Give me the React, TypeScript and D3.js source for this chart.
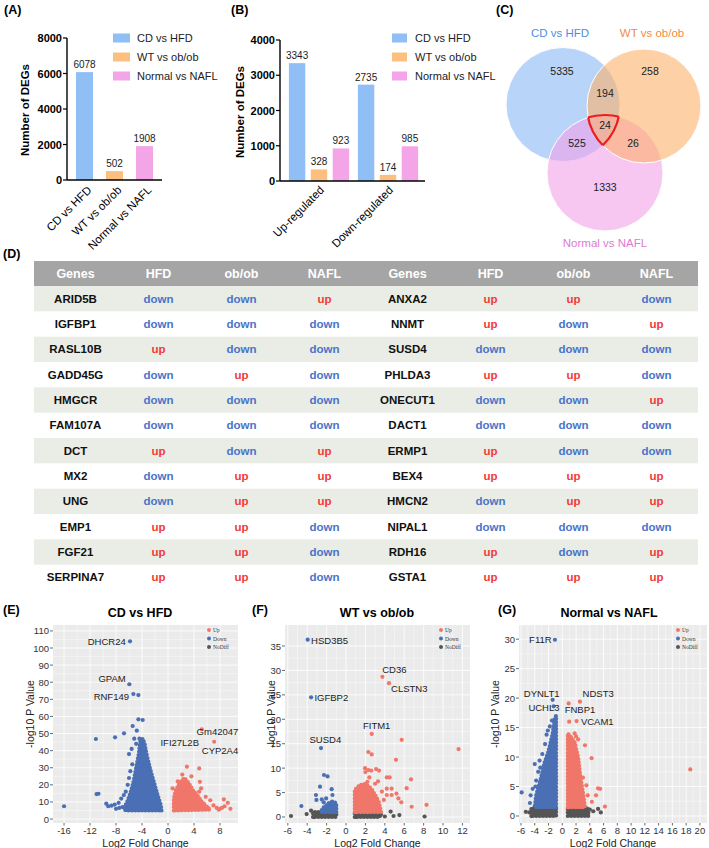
import React from "react";
import * as d3 from "d3";

const FONT = "'Liberation Sans', Arial, sans-serif";

// (A) / (B) bar charts
const seriesNames = ["CD vs HFD", "WT vs ob/ob", "Normal vs NAFL"];
const seriesColors = ["#90bff6", "#fdbf80", "#f3a5e7"];
const degTotals = [6078, 502, 1908];
const degTotalTicks = [0, 2000, 4000, 6000, 8000];
const regGroups = ["Up-regulated", "Down-regulated"];
const upCounts = [3343, 328, 923];
const downCounts = [2735, 174, 985];
const regTicks = [0, 1000, 2000, 3000, 4000];

// (C) venn
const vennNames = ["CD vs HFD", "WT vs ob/ob", "Normal vs NAFL"];
const vennColors = ["#8ab8f5", "#fbb06a", "#f2a0e8"];
const vennTextColors = ["#4f8fdc", "#f08c46", "#e07ad2"];
const vennRegionNames = ["CD", "WT", "NAFL", "CD&WT", "CD&NAFL", "WT&NAFL", "all"];
const vennRegionCounts = [5335, 258, 1333, 194, 525, 26, 24];

// (D) table
const tableHeader = ["Genes", "HFD", "ob/ob", "NAFL", "Genes", "HFD", "ob/ob", "NAFL"];
const leftGenes = ["ARID5B", "IGFBP1", "RASL10B", "GADD45G", "HMGCR", "FAM107A", "DCT", "MX2", "UNG", "EMP1", "FGF21", "SERPINA7"];
const leftHFD = ["down", "down", "up", "down", "down", "down", "up", "down", "down", "up", "up", "up"];
const leftOb = ["down", "down", "down", "up", "down", "down", "down", "up", "up", "up", "up", "up"];
const leftNAFL = ["up", "down", "down", "down", "down", "down", "up", "up", "up", "down", "down", "down"];
const rightGenes = ["ANXA2", "NNMT", "SUSD4", "PHLDA3", "ONECUT1", "DACT1", "ERMP1", "BEX4", "HMCN2", "NIPAL1", "RDH16", "GSTA1"];
const rightHFD = ["up", "up", "down", "up", "down", "down", "up", "up", "down", "down", "up", "up"];
const rightOb = ["up", "down", "down", "up", "down", "down", "down", "up", "up", "down", "down", "up"];
const rightNAFL = ["down", "up", "down", "down", "up", "down", "down", "up", "up", "down", "up", "up"];

// (E) CD vs HFD volcano
type Pt = [number, number];
const eDownArea: Pt[] = [[-1.0, 5], [-1.1, 8], [-1.6, 14], [-2.2, 22], [-2.8, 30], [-3.3, 38], [-3.6, 44], [-3.9, 47], [-4.3, 45], [-4.5, 38], [-4.9, 30], [-5.3, 22], [-5.8, 15], [-6.3, 10], [-6.8, 6], [-6.5, 5]];
const eUpArea: Pt[] = [[0.9, 5], [0.9, 12], [1.2, 17], [1.8, 21], [2.5, 24], [3.2, 21], [3.8, 17], [4.5, 14], [5.2, 10], [6, 7], [6.5, 5.5]];
const eDown: Pt[] = [[-5.85, 103.9], [-5.95, 78.8], [-5.33, 73.1], [-4.56, 72.5], [-11.1, 46.8], [-8.15, 47.8], [-6.77, 50.1], [-5.44, 54.4], [-3.9, 57.9], [-4.56, 58.3], [-4.8, 51.7], [-5.2, 47], [-4.4, 47], [-4.9, 44], [-5.6, 41], [-6.0, 38], [-4.2, 42], [-11.0, 14.6], [-10.7, 14.8], [-16, 7.5], [-8.7, 7.8], [-8.2, 8.5], [-7.6, 9.5], [-7.2, 12], [-6.8, 14], [-6.5, 16], [-6.2, 20], [-6.0, 24], [-5.8, 28], [-5.5, 32], [-7.5, 6.5], [-8.0, 6], [-9.2, 7.5], [-6.3, 8], [-7, 7], [-9.5, 9]];
const eUp: Pt[] = [[5.2, 52.5], [7.1, 45.2], [2.9, 30.6], [4.8, 29.6], [4.9, 21.8], [5.1, 18], [4.8, 16], [5.8, 13], [6.5, 11], [7.0, 8], [7.5, 6.5], [8.0, 6], [8.3, 6.5], [8.7, 7.5], [9.2, 9.5], [9.6, 6], [8.6, 11.5], [6.2, 6], [5.5, 9], [3.6, 25], [2.2, 26], [1.5, 22], [0.7, 18], [6.0, 7], [7.8, 5.5]];
const eLabels = [
  { name: "DHCR24", x: -6.5, y: 103.9, anchor: "end" },
  { name: "GPAM", x: -6.5, y: 81.9, anchor: "end" },
  { name: "RNF149", x: -6.0, y: 71.9, anchor: "end" },
  { name: "Gm42047", x: 4.4, y: 51, anchor: "start" },
  { name: "IFI27L2B", x: 4.77, y: 44.6, anchor: "end" },
  { name: "CYP2A4", x: 5.2, y: 39.8, anchor: "start" },
];

// (F) WT vs ob/ob volcano
const fDownArea: Pt[] = [[-1.0, 1], [-1.0, 2.8], [-1.4, 3.2], [-1.9, 2.6], [-2.4, 1.8], [-2.6, 1.0]];
const fUpArea: Pt[] = [[0.9, 1], [0.9, 5.5], [1.4, 6.5], [2.0, 6.8], [2.6, 5.8], [3.0, 4.5], [3.4, 3], [3.6, 1]];
const fGrayAreas: Pt[][] = [
  [[-3.4, 0], [-3.4, 1], [-1, 1], [-1, 0]],
  [[0.9, 0], [0.9, 1], [3.5, 1], [3.5, 0]],
];
const fDown: Pt[] = [[-3.95, 36.3], [-3.6, 24.5], [-2.58, 14.1], [-2.27, 8.6], [-1.9, 8.3], [-2.68, 6.2], [-1.48, 5.7], [-1.4, 4.5], [-3.1, 4.5], [-3.05, 3.5], [-4.6, 2.25], [-2.05, 3.8], [-2.5, 3.6], [-1.8, 2.8], [-2.3, 3]];
const fUp: Pt[] = [[3.75, 28.7], [4.43, 27.4], [2.65, 17], [5.74, 15.8], [11.6, 13.9], [2.3, 13.3], [2.65, 12.8], [5.15, 11.7], [1.96, 10.0], [2.0, 9.2], [2.3, 9.6], [2.6, 9.5], [3.1, 9.8], [3.4, 9.5], [4.2, 8.1], [4.5, 8.1], [2.4, 8.1], [2.2, 7.2], [1.8, 6.5], [6.7, 7.7], [6.25, 5.9], [4.2, 5.8], [4.7, 5.8], [3.7, 5.2], [4.2, 4.5], [4.7, 4.5], [5.2, 4.8], [5.4, 3.8], [5.7, 3.0], [6.77, 2.1], [8.3, 2.5], [3.9, 3.5], [3.0, 6.8], [1.5, 6.0], [3.3, 7.3]];
const fGray: Pt[] = [[-5.67, 0.2], [-4.06, 0.6], [-3.6, 1.3], [-3.3, 0.1], [4.0, 0.1], [4.6, 1.1], [4.9, 0.2], [5.5, 0.4], [8.1, 0.1], [-2.8, 0.2], [3.6, 0.5]];
const fLabels = [
  { name: "HSD3B5", x: -3.6, y: 36.1, anchor: "start" },
  { name: "IGFBP2", x: -3.26, y: 24.5, anchor: "start" },
  { name: "SUSD4", x: -2.13, y: 15.8, anchor: "middle" },
  { name: "CD36", x: 4.98, y: 30.1, anchor: "middle" },
  { name: "CLSTN3", x: 4.64, y: 26.4, anchor: "start" },
  { name: "FITM1", x: 3.16, y: 18.7, anchor: "middle" },
];

// (G) Normal vs NAFL volcano
const gDownArea: Pt[] = [[-0.9, 1.5], [-0.9, 17], [-1.1, 16.5], [-1.4, 14], [-2.0, 11], [-2.6, 9], [-3.2, 6], [-3.8, 3.5], [-4.0, 1.5]];
const gUpArea: Pt[] = [[0.8, 1.5], [0.8, 14], [1.2, 13.5], [1.8, 12.5], [2.3, 10], [2.6, 7], [3.0, 4], [3.3, 1.5]];
const gGrayAreas: Pt[][] = [
  [[-4.5, 0], [-4.5, 1.3], [-0.9, 1.5], [-0.9, 0]],
  [[0.8, 0], [0.8, 1.5], [3.8, 1.3], [3.8, 0]],
];
const gDown: Pt[] = [[-1.07, 29.9], [-1.4, 19.7], [-1.25, 18.6], [-5.9, 4.0], [-4.7, 2.2], [-4.3, 4.6], [-3.8, 6.0], [-3.5, 7.5], [-4.0, 8.8], [-3.3, 9.4], [-2.9, 10.5], [-2.28, 13.8], [-1.8, 15.2], [-2.5, 12.2], [-3.9, 5.0], [-4.6, 3.5], [-3.2, 8.2], [-2.1, 14.5], [-1.5, 16.2]];
const gUp: Pt[] = [[0.92, 19.1], [2.57, 19.4], [1.0, 16.0], [2.08, 16.1], [18.6, 7.9], [3.3, 12], [4.26, 9.8], [5.2, 4.7], [5.5, 4.6], [4.9, 3.5], [6.2, 1.6], [3.7, 3.5], [4.3, 2.4], [3.0, 6.5], [3.5, 5.2], [2.3, 13.0], [2.0, 13.5], [1.8, 14.0]];
const gGray: Pt[] = [[-5.3, 0.7], [-4.8, 0.6], [4.5, 0.8], [5.2, 1.2], [5.6, 0.6], [4.0, 1.1]];
const gLabels = [
  { name: "F11R", x: -1.55, y: 29.9, anchor: "end" },
  { name: "DYNLT1", x: -3.0, y: 20.8, anchor: "middle" },
  { name: "UCHL3", x: -2.66, y: 18.4, anchor: "middle" },
  { name: "NDST3", x: 2.95, y: 20.7, anchor: "start" },
  { name: "FNBP1", x: 2.57, y: 18.0, anchor: "middle" },
  { name: "VCAM1", x: 2.71, y: 16.0, anchor: "start" },
];

const UP_RED = "#f0766a";
const DOWN_BLUE = "#4a6fb5";
const NODIFF = "#555555";

function Tag({ x, y, t }: { x: number; y: number; t: string }) {
  return (
    <text x={x} y={y} fontSize={12.5} fontWeight="bold" dominantBaseline="central">
      {t}
    </text>
  );
}

function BarAxis({ x, y, ticks, right }: any) {
  const y0 = y(0);
  return (
    <g>
      <line x1={x} x2={x} y1={y0} y2={y(ticks[ticks.length - 1])} stroke="#000" strokeWidth={1.4} />
      <line x1={x} x2={right} y1={y0} y2={y0} stroke="#000" strokeWidth={1.4} />
      {ticks.map((t: number) => (
        <g key={t}>
          <line x1={x - 4} x2={x} y1={y(t)} y2={y(t)} stroke="#000" strokeWidth={1.2} />
          <text x={x - 5} y={y(t)} textAnchor="end" dominantBaseline="central" fontSize={11} fontWeight="bold">
            {t}
          </text>
        </g>
      ))}
    </g>
  );
}

function Legend({ x, textX, w }: { x: number; textX: number; w: number }) {
  return (
    <g>
      {seriesNames.map((s, i) => (
        <g key={s}>
          <rect x={x} y={38 + i * 19 - 4.5} width={w} height={9} fill={seriesColors[i]} />
          <text x={textX} y={38 + i * 19} fontSize={11} dominantBaseline="central" fill="#222">
            {s}
          </text>
        </g>
      ))}
    </g>
  );
}

function PanelA() {
  const y = d3.scaleLinear().domain([0, 8000]).range([180, 38]);
  const x = d3.scaleBand().domain(seriesNames).range([69.5, 159.5]).paddingInner(0.43).paddingOuter(0.215);
  return (
    <g>
      <Tag x={4} y={10} t="(A)" />
      {seriesNames.map((s, i) => (
        <g key={s}>
          <rect x={x(s)} y={y(degTotals[i])} width={x.bandwidth()} height={y(0) - y(degTotals[i])} fill={seriesColors[i]} />
          <text x={(x(s) as number) + x.bandwidth() / 2} y={y(degTotals[i]) - 4} textAnchor="middle" fontSize={10} fill="#222">
            {degTotals[i]}
          </text>
          <text
            transform={`translate(${(x(s) as number) + x.bandwidth() / 2 + 5},188) rotate(-45)`}
            textAnchor="end"
            dominantBaseline="central"
            fontSize={11.5}
          >
            {s}
          </text>
        </g>
      ))}
      <BarAxis x={67} y={y} ticks={degTotalTicks} right={162} />
      <text transform="translate(25,110) rotate(-90)" textAnchor="middle" dominantBaseline="central" fontSize={11.5} fontWeight="bold">
        Number of DEGs
      </text>
      <Legend x={113} textX={137} w={17} />
    </g>
  );
}

function PanelB() {
  const y = d3.scaleLinear().domain([0, 4000]).range([181, 40]);
  const x0 = d3.scaleBand().domain(regGroups).range([284.5, 422.5]);
  const x1 = d3.scaleBand().domain(seriesNames).range([0, x0.bandwidth()]).paddingInner(0.25).paddingOuter(0.2);
  const groups = [upCounts, downCounts];
  return (
    <g>
      <Tag x={231} y={10} t="(B)" />
      {regGroups.map((g, gi) => (
        <g key={g} transform={`translate(${x0(g)},0)`}>
          {seriesNames.map((s, i) => (
            <g key={s}>
              <rect x={x1(s)} y={y(groups[gi][i])} width={x1.bandwidth()} height={y(0) - y(groups[gi][i])} fill={seriesColors[i]} />
              <text x={(x1(s) as number) + x1.bandwidth() / 2} y={y(groups[gi][i]) - 4} textAnchor="middle" fontSize={10} fill="#222">
                {groups[gi][i]}
              </text>
            </g>
          ))}
          <text
            transform={`translate(${x0.bandwidth() / 2 + 3},188) rotate(-45)`}
            textAnchor="end"
            dominantBaseline="central"
            fontSize={11.5}
          >
            {g}
          </text>
        </g>
      ))}
      <BarAxis x={280} y={y} ticks={regTicks} right={425} />
      <text transform="translate(240,112) rotate(-90)" textAnchor="middle" dominantBaseline="central" fontSize={11.5} fontWeight="bold">
        Number of DEGs
      </text>
      <Legend x={392} textX={415} w={15} />
    </g>
  );
}

function PanelC() {
  const circles = [
    { cx: 563, cy: 104.5, r: 57 },
    { cx: 644, cy: 106, r: 57 },
    { cx: 605, cy: 173, r: 58 },
  ];
  const order = [0, 2, 1];
  const regionPos: Record<string, [number, number]> = {
    CD: [562, 71],
    WT: [650, 71],
    NAFL: [605, 187],
    "CD&WT": [605, 93],
    "CD&NAFL": [577, 143],
    "WT&NAFL": [633, 143],
    all: [605, 125],
  };
  return (
    <g>
      <Tag x={496} y={10} t="(C)" />
      <defs>
        {circles.map((c, i) => (
          <clipPath id={`vc${i}`} key={i}>
            <circle cx={c.cx} cy={c.cy} r={c.r} />
          </clipPath>
        ))}
      </defs>
      {order.map((i) => (
        <circle key={i} cx={circles[i].cx} cy={circles[i].cy} r={circles[i].r} fill={vennColors[i]} fillOpacity={0.6} stroke="#fff" strokeWidth={1} />
      ))}
      {[0, 1, 2].map((i) => {
        const others = [0, 1, 2].filter((j) => j !== i);
        return (
          <g key={i} clipPath={`url(#vc${others[0]})`}>
            <g clipPath={`url(#vc${others[1]})`}>
              <circle cx={circles[i].cx} cy={circles[i].cy} r={circles[i].r} fill="none" stroke="#ee1c1c" strokeWidth={2.2} />
            </g>
          </g>
        );
      })}
      {vennRegionNames.map((n, i) => (
        <text key={n} x={regionPos[n][0]} y={regionPos[n][1]} textAnchor="middle" dominantBaseline="central" fontSize={10.5} fill="#222">
          {vennRegionCounts[i]}
        </text>
      ))}
      <text x={560} y={33} textAnchor="middle" dominantBaseline="central" fontSize={11.5} fill={vennTextColors[0]}>
        {vennNames[0]}
      </text>
      <text x={652} y={33} textAnchor="middle" dominantBaseline="central" fontSize={11.5} fill={vennTextColors[1]}>
        {vennNames[1]}
      </text>
      <text x={605} y={243} textAnchor="middle" dominantBaseline="central" fontSize={11.5} fill={vennTextColors[2]}>
        {vennNames[2]}
      </text>
    </g>
  );
}

function PanelD() {
  const col = d3.scaleBand<number>().domain(d3.range(8)).range([34, 698]);
  const row = d3.scaleBand<number>().domain(d3.range(leftGenes.length)).range([286, 590]);
  const rows = leftGenes.map((g, i) => [g, leftHFD[i], leftOb[i], leftNAFL[i], rightGenes[i], rightHFD[i], rightOb[i], rightNAFL[i]]);
  return (
    <g>
      <Tag x={3} y={253.5} t="(D)" />
      <rect x={34} y={261} width={664} height={25} fill="#a5a5a5" />
      {tableHeader.map((h, i) => (
        <text key={i} x={(col(i) as number) + col.bandwidth() / 2} y={273.5} textAnchor="middle" dominantBaseline="central" fontSize={12.5} fontWeight="bold" fill="#fff">
          {h}
        </text>
      ))}
      {rows.map((r, ri) => (
        <g key={ri}>
          {ri % 2 === 0 && <rect x={34} y={row(ri)} width={664} height={row.bandwidth()} fill="#e9ede5" />}
          {r.map((c, ci) => {
            const isGene = ci % 4 === 0;
            return (
              <text
                key={ci}
                x={(col(ci) as number) + col.bandwidth() / 2}
                y={(row(ri) as number) + row.bandwidth() / 2}
                textAnchor="middle"
                dominantBaseline="central"
                fontWeight="bold"
                fontSize={11.5}
                fill={isGene ? "#111" : c === "up" ? "#f23a3a" : "#4a74c9"}
              >
                {c}
              </text>
            );
          })}
        </g>
      ))}
    </g>
  );
}

function Volcano(p: any) {
  const { tag, tagX, title, titleX, left, right, top, bottom, xDomain, yDomain, xTicks, yTicks, downArea, upArea, grayAreas, down, up, gray, labels, yTitleX } = p;
  const xs = d3.scaleLinear().domain(xDomain).range([left, right]);
  const ys = d3.scaleLinear().domain(yDomain).range([bottom, top]);
  const area = d3
    .line<Pt>()
    .x((d) => xs(d[0]))
    .y((d) => ys(d[1]))
    .curve(d3.curveLinearClosed);
  const minorX = xTicks.slice(1).map((t: number, i: number) => (t + xTicks[i]) / 2);
  const minorY = yTicks.slice(1).map((t: number, i: number) => (t + yTicks[i]) / 2);
  const r = 2.1;
  const legend = [
    ["Up", UP_RED],
    ["Down", DOWN_BLUE],
    ["NoDiff", NODIFF],
  ];
  // dense clouds: filled outline with a beaded edge so the rim reads as dots
  const cloud = (a: Pt[], c: string, key: string) => (
    <g key={key}>
      <path d={area(a) as string} fill={c} stroke={c} strokeWidth={1.5} strokeLinejoin="round" />
      <path d={area(a) as string} fill="none" stroke={c} strokeWidth={4.2} strokeDasharray="0 3.4" strokeLinecap="round" />
    </g>
  );
  return (
    <g>
      <Tag x={tagX} y={610} t={tag} />
      <text x={titleX} y={613} textAnchor="middle" dominantBaseline="central" fontSize={12.5} fontWeight="bold">
        {title}
      </text>
      <rect x={left} y={top} width={right - left} height={bottom - top} fill="#ebebeb" />
      {minorX.map((t: number) => (
        <line key={"mx" + t} x1={xs(t)} x2={xs(t)} y1={top} y2={bottom} stroke="#fff" strokeWidth={0.4} />
      ))}
      {minorY.map((t: number) => (
        <line key={"my" + t} y1={ys(t)} y2={ys(t)} x1={left} x2={right} stroke="#fff" strokeWidth={0.4} />
      ))}
      {xTicks.map((t: number) => (
        <line key={"x" + t} x1={xs(t)} x2={xs(t)} y1={top} y2={bottom} stroke="#fff" strokeWidth={0.8} />
      ))}
      {yTicks.map((t: number) => (
        <line key={"y" + t} y1={ys(t)} y2={ys(t)} x1={left} x2={right} stroke="#fff" strokeWidth={0.8} />
      ))}
      {grayAreas.map((a: Pt[], i: number) => cloud(a, NODIFF, "ga" + i))}
      {gray.map((d: Pt, i: number) => (
        <circle key={"g" + i} cx={xs(d[0])} cy={ys(d[1])} r={r} fill={NODIFF} />
      ))}
      {cloud(downArea, DOWN_BLUE, "da")}
      {cloud(upArea, UP_RED, "ua")}
      {down.map((d: Pt, i: number) => (
        <circle key={"d" + i} cx={xs(d[0])} cy={ys(d[1])} r={r} fill={DOWN_BLUE} />
      ))}
      {up.map((d: Pt, i: number) => (
        <circle key={"u" + i} cx={xs(d[0])} cy={ys(d[1])} r={r} fill={UP_RED} />
      ))}
      {labels.map((l: any) => (
        <text key={l.name} x={xs(l.x)} y={ys(l.y)} textAnchor={l.anchor} dominantBaseline="central" fontSize={9.5} fill="#222">
          {l.name}
        </text>
      ))}
      {legend.map(([n, c], i) => (
        <g key={n}>
          <circle cx={right - 29} cy={top + 5 + i * 8.5} r={2} fill={c} />
          <text x={right - 25} y={top + 5 + i * 8.5} dominantBaseline="central" fontSize={5.5} fontFamily="'Liberation Serif', serif" fill="#333">
            {n}
          </text>
        </g>
      ))}
      {xTicks.map((t: number) => (
        <g key={"xt" + t}>
          <line x1={xs(t)} x2={xs(t)} y1={bottom} y2={bottom + 2.5} stroke="#444" strokeWidth={0.8} />
          <text x={xs(t)} y={bottom + 7.5} textAnchor="middle" dominantBaseline="central" fontSize={9.5} fill="#333">
            {t}
          </text>
        </g>
      ))}
      {yTicks.map((t: number) => (
        <g key={"yt" + t}>
          <line x1={left - 3} x2={left} y1={ys(t)} y2={ys(t)} stroke="#444" strokeWidth={0.8} />
          <text x={left - 4} y={ys(t)} textAnchor="end" dominantBaseline="central" fontSize={9.5} fill="#333">
            {t}
          </text>
        </g>
      ))}
      <text x={(left + right) / 2} y={843} textAnchor="middle" dominantBaseline="central" fontSize={10.5} fill="#222">
        Log2 Fold Change
      </text>
      <text transform={`translate(${yTitleX},${(top + bottom) / 2 - 10}) rotate(-90)`} textAnchor="middle" dominantBaseline="central" fontSize={10.5} fill="#222">
        -log10 P Value
      </text>
    </g>
  );
}

export default function App() {
  return (
    <svg width={709} height={848} style={{ position: "absolute", left: 0, top: 0, display: "block" }} fontFamily={FONT}>
      <rect width={709} height={848} fill="#fff" />
      <PanelA />
      <PanelB />
      <PanelC />
      <PanelD />
      <Volcano
        tag="(E)" tagX={3} title="CD vs HFD" titleX={140} left={53} right={238} top={625} bottom={823}
        xDomain={[-17.7, 10.77]} yDomain={[-2.3, 113.45]} xTicks={[-16, -12, -8, -4, 0, 4, 8]} yTicks={d3.range(0, 111, 10)}
        downArea={eDownArea} upArea={eUpArea} grayAreas={[]} down={eDown} up={eUp} gray={[]} labels={eLabels} yTitleX={30}
      />
      <Volcano
        tag="(F)" tagX={252} title="WT vs ob/ob" titleX={377} left={285} right={470} top={625} bottom={823}
        xDomain={[-6.29, 12.78]} yDomain={[-1.23, 39.3]} xTicks={d3.range(-6, 13, 2)} yTicks={d3.range(0, 36, 5)}
        downArea={fDownArea} upArea={fUpArea} grayAreas={fGrayAreas} down={fDown} up={fUp} gray={fGray} labels={fLabels} yTitleX={271}
      />
      <Volcano
        tag="(G)" tagX={498} title="Normal vs NAFL" titleX={609} left={519} right={707} top={625} bottom={823}
        xDomain={[-6.29, 21.03]} yDomain={[-1.19, 32.4]} xTicks={d3.range(-6, 21, 2)} yTicks={d3.range(0, 31, 5)}
        downArea={gDownArea} upArea={gUpArea} grayAreas={gGrayAreas} down={gDown} up={gUp} gray={gGray} labels={gLabels} yTitleX={495}
      />
    </svg>
  );
}
